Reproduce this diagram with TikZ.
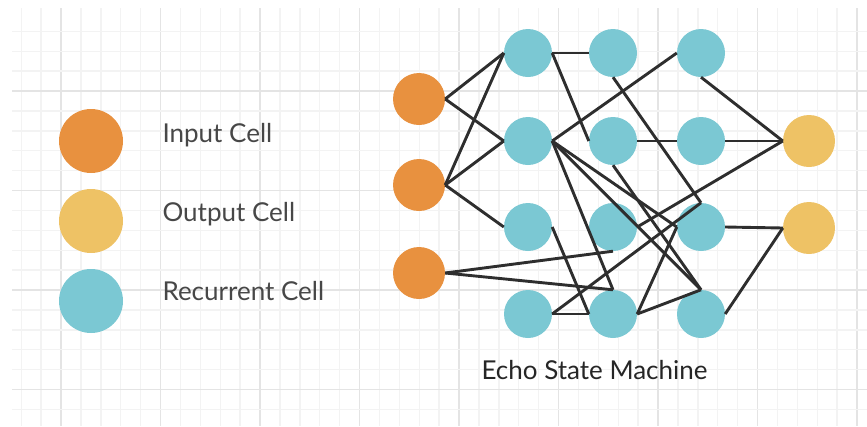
\documentclass[tikz,border=0pt]{standalone}
\usepackage{fontspec}
\setmainfont{Lato}
\usetikzlibrary{positioning}
\definecolor{incol}{HTML}{E8913F}
\definecolor{outcol}{HTML}{EEC265}
\definecolor{reccol}{HTML}{7BC8D3}
\definecolor{linecol}{HTML}{2E2E2E}
\definecolor{minorcol}{HTML}{F3F3F3}
\definecolor{majorcol}{HTML}{E4E4E4}
\definecolor{txtcol}{HTML}{474747}
\begin{document}
\begin{tikzpicture}[x=1pt,y=-1pt,
    cell/.style={circle,inner sep=0pt,minimum size=48pt},
    incell/.style={cell,fill=incol,minimum size=52pt},
    outcell/.style={cell,fill=outcol,minimum size=52pt},
    reccell/.style={cell,fill=reccol},
    legcell/.style={cell,minimum size=64pt},
    lbl/.style={anchor=base west,text=txtcol,font=\fontsize{26}{30}\selectfont},
    every edge/.style={draw=linecol,line width=2.9pt}]
  \useasboundingbox (0,0) rectangle (867,426);
  % background grid
  \foreach \k in {-2,...,40} {
    \pgfmathtruncatemacro{\m}{mod(\k+10,5)}
    \ifnum\m=0 \draw[majorcol,line width=1.8pt] (61+19.9*\k,8) -- (61+19.9*\k,426);
    \else \draw[minorcol,line width=1.4pt] (61+19.9*\k,8) -- (61+19.9*\k,426); \fi}
  \foreach \k in {-3,...,16} {
    \pgfmathtruncatemacro{\m}{mod(\k+10,5)}
    \ifnum\m=0 \draw[majorcol,line width=1.8pt] (12,91+19.9*\k) -- (867,91+19.9*\k);
    \else \draw[minorcol,line width=1.4pt] (12,91+19.9*\k) -- (867,91+19.9*\k); \fi}
  % legend
  \node[legcell,fill=incol] (l1) at (91,141) {}; \node[lbl] (t1) at (159,142) {Input Cell};
  \node[legcell,fill=outcol] (l2) at (91,221) {}; \node[lbl] (t2) at (159,221) {Output Cell};
  \node[legcell,fill=reccol] (l3) at (91,301) {}; \node[lbl] (t3) at (159,300) {Recurrent Cell};
  % cells
  \node[incell] (i1) at (419,99) {}; \node[incell] (i2) at (419,185) {};
  \node[incell] (i3) at (419,273) {};
  \node[reccell] (r11) at (528,53) {}; \node[reccell] (r12) at (528,141) {};
  \node[reccell] (r13) at (528,227) {}; \node[reccell] (r14) at (528,314) {};
  \node[reccell] (r21) at (613,53) {}; \node[reccell] (r22) at (613,141) {};
  \node[reccell] (r23) at (613,227) {}; \node[reccell] (r24) at (613,314) {};
  \node[reccell] (r31) at (701,53) {}; \node[reccell] (r32) at (701,141) {};
  \node[reccell] (r33) at (701,227) {}; \node[reccell] (r34) at (701,314) {};
  \node[outcell] (o1) at (809,141) {}; \node[outcell] (o2) at (809,228) {};
  \node[lbl,text=black!85] (title) at (478,379) {Echo State Machine};
  % connections
  \path (i1.east) edge (r11.west) (i1.east) edge (r12.west);
  \path (i2.east) edge (r11.west) (i2.east) edge (r12.west)
        (i2.east) edge (r13.west);
  \path (i3.east) edge (r23.south) (i3.east) edge (r24.north);
  \path (r11.east) edge (r21.west) (r11.east) edge (r22.west);
  \path (r12.east) edge (r31.west) (r12.east) edge (r33.west)
        (r12.east) edge (r34.north) (r12.east) edge (r24.north);
  \path (r13.east) edge (r24.west);
  \path (r14.east) edge (r24.west) (r14.east) edge (r33.north);
  \path (r21.south) edge (r33.north);
  \path (r22.east) edge (r32.west) (r22.south) edge (r34.north);
  \path (r23.east) edge (o1.west);
  \path (r24.east) edge (r33.west) (r24.east) edge (r34.north);
  \path (r31.south) edge (o1.west); \path (r32.east) edge (o1.west);
  \path (r33.east) edge (o2.west); \path (r34.east) edge (o2.west);
\end{tikzpicture}
\end{document}
